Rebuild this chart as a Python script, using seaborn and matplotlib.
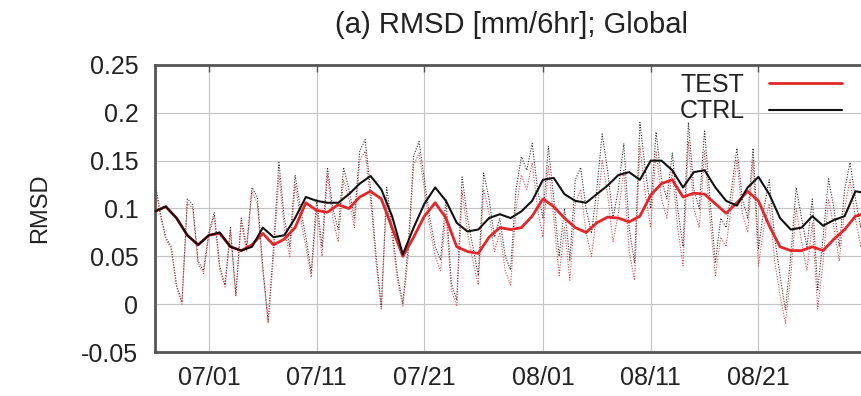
import numpy as np
import pandas as pd
import matplotlib
matplotlib.use("Agg")
import matplotlib.pyplot as plt
import seaborn as sns

# ---------------- data ----------------
start_date = "2009-06-26"
tick_labels = ["07/01", "07/11", "07/21", "08/01", "08/11", "08/21"]
tick_dates = ["2009-07-01", "2009-07-11", "2009-07-21", "2009-08-01",
              "2009-08-11", "2009-08-21"]

# 12-hourly raw RMSD (dotted)
ctrl_raw = [0.128, 0.095, 0.070, 0.060, 0.020, 0.002, 0.110, 0.104, 0.045, 0.035,
            0.075, 0.096, 0.040, 0.020, 0.080, 0.010, 0.090, 0.060, 0.122, 0.112,
            0.040, -0.018, 0.060, 0.148, 0.090, 0.060, 0.135, 0.100, 0.070, 0.033,
            0.110, 0.060, 0.143, 0.100, 0.078, 0.143, 0.120, 0.090, 0.160, 0.172,
            0.120, 0.053, -0.003, 0.122, 0.080, 0.030, 0.001, 0.060, 0.155, 0.170,
            0.130, 0.090, 0.060, 0.046, 0.110, 0.022, 0.004, 0.133, 0.090, 0.060,
            0.030, 0.137, 0.110, 0.070, 0.090, 0.050, 0.036, 0.120, 0.154, 0.140,
            0.168, 0.120, 0.090, 0.165, 0.110, 0.050, 0.100, 0.046, 0.130, 0.143,
            0.100, 0.074, 0.120, 0.178, 0.140, 0.090, 0.120, 0.168, 0.080, 0.043,
            0.190, 0.140, 0.100, 0.180, 0.130, 0.110, 0.158, 0.100, 0.060, 0.190,
            0.120, 0.100, 0.182, 0.110, 0.043, 0.090, 0.080, 0.120, 0.163, 0.110,
            0.090, 0.163, 0.057, 0.100, 0.130, 0.070, 0.030, -0.006, 0.050, 0.122,
            0.090, 0.060, 0.110, 0.015, 0.070, 0.131, 0.100, 0.060, 0.120, 0.148,
            0.110, 0.080, 0.130]
test_raw = [0.125, 0.092, 0.068, 0.058, 0.018, 0.000, 0.106, 0.100, 0.042, 0.032,
            0.072, 0.092, 0.036, 0.018, 0.076, 0.008, 0.086, 0.055, 0.118, 0.105,
            0.035, -0.020, 0.050, 0.135, 0.080, 0.050, 0.125, 0.090, 0.060, 0.028,
            0.100, 0.050, 0.135, 0.090, 0.065, 0.130, 0.110, 0.080, 0.150, 0.160,
            0.110, 0.045, -0.005, 0.110, 0.070, 0.025, -0.002, 0.050, 0.145, 0.158,
            0.120, 0.080, 0.050, 0.035, 0.095, 0.015, -0.002, 0.118, 0.075, 0.045,
            0.020, 0.120, 0.095, 0.055, 0.075, 0.035, 0.020, 0.100, 0.135, 0.120,
            0.148, 0.100, 0.070, 0.145, 0.090, 0.030, 0.080, 0.025, 0.105, 0.120,
            0.075, 0.050, 0.095, 0.150, 0.115, 0.065, 0.095, 0.140, 0.055, 0.025,
            0.165, 0.115, 0.080, 0.160, 0.110, 0.090, 0.140, 0.080, 0.040, 0.170,
            0.100, 0.080, 0.160, 0.090, 0.030, 0.070, 0.060, 0.105, 0.150, 0.095,
            0.075, 0.150, 0.040, 0.080, 0.105, 0.045, 0.010, -0.020, 0.030, 0.100,
            0.065, 0.035, 0.085, -0.005, 0.045, 0.110, 0.080, 0.045, 0.100, 0.130,
            0.090, 0.060, 0.110]

# daily smoothed RMSD (solid)
ctrl_smooth = [0.097, 0.102, 0.090, 0.072, 0.062, 0.072, 0.075, 0.060, 0.056, 0.060,
               0.080, 0.070, 0.072, 0.090, 0.112, 0.108, 0.106, 0.106, 0.115, 0.126,
               0.134, 0.120, 0.092, 0.052, 0.080, 0.105, 0.122, 0.108, 0.085, 0.076,
               0.078, 0.090, 0.094, 0.090, 0.097, 0.108, 0.130, 0.132, 0.115, 0.108,
               0.106, 0.115, 0.124, 0.135, 0.138, 0.130, 0.150, 0.150, 0.140, 0.122,
               0.138, 0.140, 0.122, 0.108, 0.103, 0.122, 0.133, 0.115, 0.090, 0.078,
               0.080, 0.092, 0.082, 0.088, 0.092, 0.118, 0.116]
test_smooth = [0.097, 0.102, 0.090, 0.072, 0.062, 0.072, 0.074, 0.060, 0.056, 0.062,
               0.074, 0.062, 0.068, 0.080, 0.106, 0.098, 0.096, 0.104, 0.100, 0.112,
               0.118, 0.110, 0.080, 0.050, 0.070, 0.092, 0.106, 0.090, 0.060, 0.055,
               0.053, 0.070, 0.080, 0.078, 0.080, 0.092, 0.110, 0.102, 0.090, 0.080,
               0.075, 0.085, 0.091, 0.090, 0.086, 0.092, 0.114, 0.126, 0.130, 0.112,
               0.116, 0.115, 0.105, 0.095, 0.106, 0.118, 0.108, 0.082, 0.060, 0.056,
               0.056, 0.060, 0.056, 0.068, 0.078, 0.092, 0.095]

yticks = [-0.05, 0, 0.05, 0.1, 0.15, 0.2, 0.25]
ytick_labels = ["-0.05", "0", "0.05", "0.1", "0.15", "0.2", "0.25"]

# ---------------- build frames ----------------
t0 = pd.Timestamp(start_date)
raw_time = t0 + pd.to_timedelta(np.arange(len(ctrl_raw)) * 12, unit="h")
smooth_time = t0 + pd.to_timedelta(np.arange(len(ctrl_smooth)), unit="D")
raw_df = pd.DataFrame({"time": raw_time, "TEST": test_raw, "CTRL": ctrl_raw})
sm_df = pd.DataFrame({"time": smooth_time, "TEST": test_smooth, "CTRL": ctrl_smooth})

# ---------------- plot ----------------
sns.set_theme(style="white")
plt.rcParams["font.family"] = ["Liberation Sans", "DejaVu Sans"]

fig = plt.figure(figsize=(8.62, 3.96), dpi=100)
ax = fig.add_axes([155 / 862, 1 - 352 / 396, 722 / 862, 287 / 396])

red = "#e3262b"
dot = (0, (1, 1.4))
sns.lineplot(data=raw_df, x="time", y="CTRL", ax=ax, color="#333333",
             linewidth=0.8, linestyle=dot, zorder=2)
sns.lineplot(data=raw_df, x="time", y="TEST", ax=ax, color="#e0474b",
             linewidth=0.8, linestyle=dot, zorder=2)
sns.lineplot(data=sm_df, x="time", y="TEST", ax=ax, color=red,
             linewidth=2.0, zorder=3, label="TEST")
sns.lineplot(data=sm_df, x="time", y="CTRL", ax=ax, color="#111111",
             linewidth=1.5, zorder=4, label="CTRL")

ax.set_xlim(t0, pd.Timestamp("2009-09-01"))
ax.set_ylim(-0.05, 0.25)
ax.set_xticks(pd.to_datetime(tick_dates))
ax.set_xticklabels(tick_labels)
ax.set_yticks(yticks)
ax.set_yticklabels(ytick_labels)
ax.set_xlabel("")
ax.set_ylabel("")

ax.grid(True, color="#c4c4c4", linewidth=0.8, linestyle="-")
ax.set_axisbelow(True)
for s in ax.spines.values():
    s.set_color("#555555")
    s.set_linewidth(2.0)
ax.tick_params(direction="in", length=5, width=1, color="#555555",
               top=True, right=True, labelsize=18, colors="#222222")
ax.tick_params(axis="y", pad=12)
ax.tick_params(axis="x", pad=10)

leg = ax.legend(loc="upper right", bbox_to_anchor=(842 / 862, 1 - 73 / 396),
                bbox_transform=fig.transFigure, frameon=False, markerfirst=False,
                fontsize=18, handlelength=2.9, handletextpad=1.0,
                labelspacing=0.1, borderpad=0, borderaxespad=0)
for txt in leg.get_texts():
    txt.set_color("#222222")

fig.text(512 / 862, 1 - 25 / 396, "(a) RMSD [mm/6hr]; Global",
         ha="center", va="center", fontsize=21, color="#222222")
fig.text(40 / 862, 1 - 208 / 396, "RMSD", rotation=90,
         ha="center", va="center", fontsize=17, color="#222222")

fig.savefig("out.png", dpi=100)
